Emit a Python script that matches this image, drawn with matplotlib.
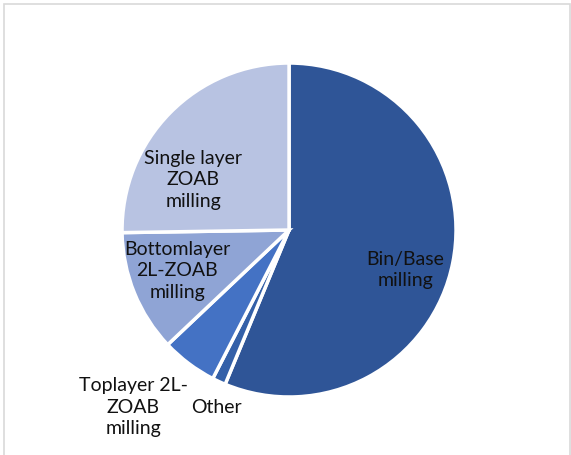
import matplotlib
matplotlib.use("Agg")
from matplotlib import pyplot as plt
from matplotlib.patches import Rectangle

# milling share per category (percent)
categories = ["Bin/Base\nmilling", "Other", "Toplayer 2L-\nZOAB\nmilling",
              "Bottomlayer\n2L-ZOAB\nmilling", "Single layer\nZOAB\nmilling"]
shares = [56.25, 1.3, 5.4, 11.8, 25.25]
colors = ["#2F5597", "#3460A8", "#4472C4", "#8FA4D5", "#B8C3E2"]

# label centres in axes data units (pie radius = 1)
label_pos = [(0.695, -0.24), (-0.437, -1.06), (-0.934, -1.06),
             (-0.67, -0.245), (-0.575, 0.30)]


def main():
    plt.rcParams['font.family'] = ['Lato', 'DejaVu Sans']
    fig = plt.figure(figsize=(5.71, 4.55), dpi=100)
    fig.patches.append(Rectangle((3.5 / 571, -0.1), 566 / 571, 1.1 - 4.5 / 455,
                                 transform=fig.transFigure, fill=False,
                                 edgecolor="#D9D9D9", linewidth=1.2))
    ax = fig.add_axes([0.2137, 0.1275, 0.585, 0.734])
    ax.pie(shares, colors=colors, startangle=90, counterclock=False,
           wedgeprops=dict(edgecolor="white", linewidth=2.5))
    ax.set_xlim(-1, 1)
    ax.set_ylim(-1, 1)
    ax.set_aspect("equal")
    ax.axis("off")

    for txt, (x, y) in zip(categories, label_pos):
        ax.text(x, y, txt, ha="center", va="center", multialignment="center",
                fontsize=14, color="#111111", linespacing=1.32, clip_on=False)

    fig.savefig("out.png", dpi=100)


if __name__ == "__main__":
    main()
